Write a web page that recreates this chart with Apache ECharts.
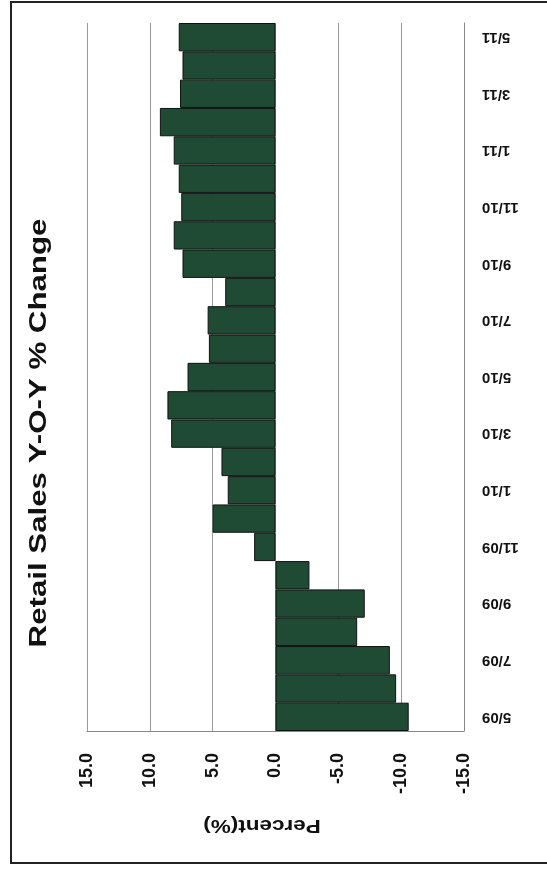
<!DOCTYPE html>
<html>
<head>
<meta charset="utf-8">
<script src="https://cdn.jsdelivr.net/npm/echarts@6/dist/echarts.min.js"></script>
<style>
html,body{margin:0;padding:0;background:#fff;}
#chart{width:547px;height:871px;}
</style>
</head>
<body>
<div id="chart"></div>
<script>
const categories = ['5/09','6/09','7/09','8/09','9/09','10/09','11/09','12/09',
  '1/10','2/10','3/10','4/10','5/10','6/10','7/10','8/10','9/10','10/10','11/10','12/10',
  '1/11','2/11','3/11','4/11','5/11'];
const values = [-10.6,-9.6,-9.1,-6.5,-7.1,-2.7,1.7,5.0,
  3.8,4.3,8.3,8.6,7.0,5.3,5.4,4.0,7.4,8.1,7.5,7.7,
  8.1,9.2,7.6,7.4,7.7];
const xTicks = {min:-15, max:15, interval:5};
const titleText = 'Retail Sales Y-O-Y % Change';
const axisTitle = 'Percent(%)';

const FONT = '"Liberation Sans", Arial, sans-serif';
const chart = echarts.init(document.getElementById('chart'), null, {renderer:'canvas'});
chart.setOption({
  animation:false,
  backgroundColor:'#fff',
  grid:{left:87, right:83, top:23, bottom:140, containLabel:false},
  xAxis:{
    type:'value', inverse:true, position:'bottom',
    min:xTicks.min, max:xTicks.max, interval:xTicks.interval,
    axisLine:{show:true, onZero:false, lineStyle:{color:'#888', width:1}},
    axisTick:{show:false},
    splitLine:{show:true, lineStyle:{color:'#999', width:1}},
    axisLabel:{rotate:90, margin:22, fontSize:18, fontWeight:'bold', color:'#111', fontFamily:FONT,
      formatter:v=>v.toFixed(1)}
  },
  yAxis:{
    type:'category', position:'right', data:categories,
    axisLine:{show:true, onZero:false, lineStyle:{color:'#888', width:1}},
    axisTick:{show:false},
    splitLine:{show:false},
    axisLabel:{interval:1, rotate:180, margin:18, fontSize:15, fontWeight:'bold', color:'#111', fontFamily:FONT}
  },
  series:[{
    type:'bar', data:values, barCategoryGap:'0%',
    itemStyle:{color:'#1f4b34', borderColor:'#111', borderWidth:1}
  }],
  graphic:[
    {type:'rect', shape:{x:11, y:2, width:600, height:861}, style:{fill:'none', stroke:'#222', lineWidth:2}, silent:true},
    {type:'text', x:40, y:433, rotation:Math.PI/2, scaleX:1.42, scaleY:1.05,
      style:{text:titleText, fontSize:22, fontWeight:'bold', fontFamily:FONT, fill:'#111', align:'center', verticalAlign:'middle'}},
    {type:'text', x:262, y:825, rotation:Math.PI, scaleX:1.25,
      style:{text:axisTitle, fontSize:18, fontWeight:'bold', fontFamily:FONT, fill:'#111', align:'center', verticalAlign:'middle'}}
  ]
});
</script>
</body>
</html>
